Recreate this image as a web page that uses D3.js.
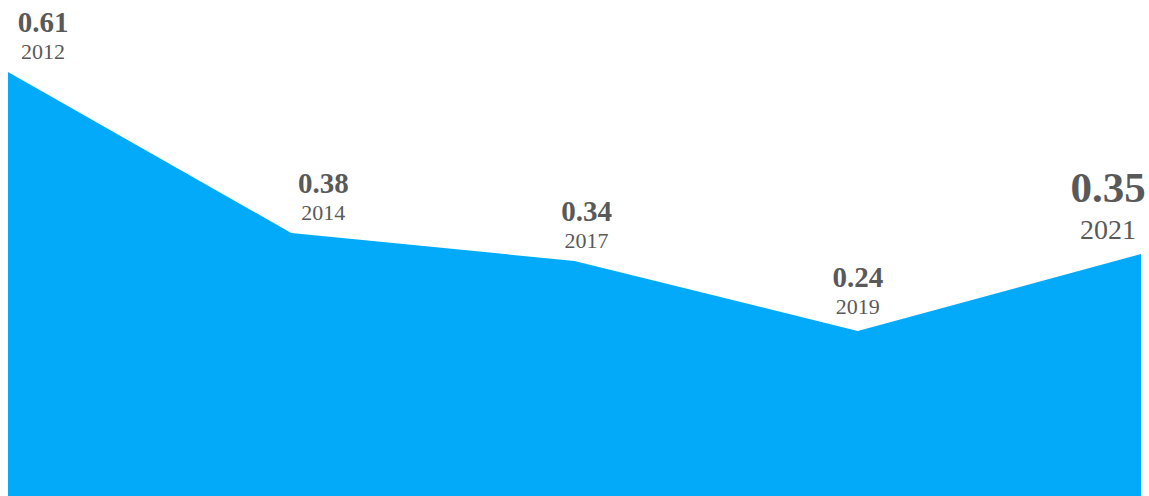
<!DOCTYPE html>
<html lang="en">
<head>
<meta charset="UTF-8">
<title>Area chart</title>
<script src="https://cdn.jsdelivr.net/npm/d3@7"></script>
<style>
  body { margin: 0; background: #fff; }
  svg { display: block; }
  text { font-family: "Liberation Serif", "Times New Roman", serif; fill: #595959; }
</style>
</head>
<body>
<div id="chart"></div>
<script>
// data
var years = ["2012", "2014", "2017", "2019", "2021"];
var values = [0.61, 0.38, 0.34, 0.24, 0.35];
var labelDx = [35, 32, 12, 0, -33]; // nudges so labels stay readable
var labelDy = [0, 0, 0, -4, 0];

var width = 1149, height = 496;

var svg = d3.select("#chart").append("svg")
  .attr("width", width)
  .attr("height", height);

var x = d3.scalePoint()
  .domain(years)
  .range([8, 1141]);

var y = d3.scaleLinear()
  .domain([0, 0.61])
  .range([499, 72]);

var data = years.map(function(yr, i) { return { year: yr, value: values[i], i: i }; });

var area = d3.area()
  .x(function(d) { return x(d.year); })
  .y0(height)
  .y1(function(d) { return y(d.value); });

svg.append("path")
  .datum(data)
  .attr("d", area)
  .attr("fill", "#03aafa");

var last = data.length - 1;

var labels = svg.selectAll("g.lbl")
  .data(data)
  .enter().append("g")
  .attr("class", "lbl")
  .attr("transform", function(d) {
    return "translate(" + (x(d.year) + labelDx[d.i]) + "," + (y(d.value) + labelDy[d.i]) + ")";
  });

labels.append("text")
  .attr("text-anchor", "middle")
  .attr("y", function(d) { return d.i == last ? -52 : -40; })
  .attr("font-weight", "bold")
  .attr("font-size", function(d) { return d.i == last ? 43 : 29; })
  .text(function(d) { return d3.format(".2f")(d.value); });

labels.append("text")
  .attr("text-anchor", "middle")
  .attr("y", function(d) { return d.i == last ? -15 : -13; })
  .attr("font-size", function(d) { return d.i == last ? 28 : 22; })
  .text(function(d) { return d.year; });
</script>
</body>
</html>
